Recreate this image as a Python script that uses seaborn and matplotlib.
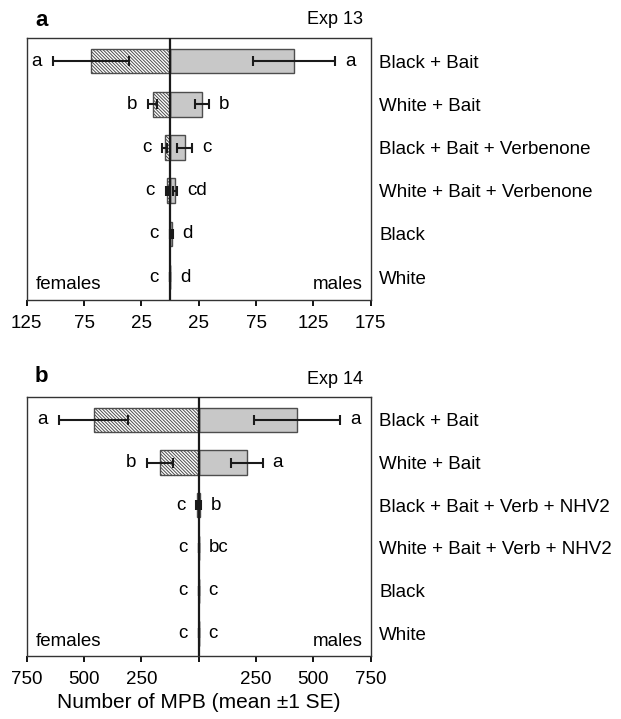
import numpy as np
import pandas as pd
import matplotlib
matplotlib.use('Agg')
import matplotlib.pyplot as plt
import seaborn as sns

# ---- data ----
treat_a = ['Black + Bait', 'White + Bait', 'Black + Bait + Verbenone',
           'White + Bait + Verbenone', 'Black', 'White']
fem_a = [69, 15, 4.6, 2.9, 0, 0]
fem_se_a = [33, 4, 2, 1, 0, 0]
male_a = [108, 28, 13, 4.5, 1.5, 0]
male_se_a = [36, 6, 6.5, 1.8, 0.8, 0]
fem_let_a = ['a', 'b', 'c', 'c', 'c', 'c']
male_let_a = ['a', 'b', 'c', 'cd', 'd', 'd']

treat_b = ['Black + Bait', 'White + Bait', 'Black + Bait + Verb + NHV2',
           'White + Bait + Verb + NHV2', 'Black', 'White']
fem_b = [458, 168, 6, 0, 0, 0]
fem_se_b = [150, 58, 4, 0, 0, 0]
male_b = [430, 210, 6, 0, 0, 0]
male_se_b = [188, 70, 4, 0, 0, 0]
fem_let_b = ['a', 'b', 'c', 'c', 'c', 'c']
male_let_b = ['a', 'a', 'b', 'bc', 'c', 'c']

sns.set_style('ticks')
plt.rcParams['font.family'] = ['Liberation Sans', 'DejaVu Sans']
plt.rcParams['text.color'] = 'black'
plt.rcParams['axes.labelcolor'] = 'black'
plt.rcParams['xtick.color'] = 'black'
plt.rcParams['ytick.color'] = 'black'
plt.rcParams['hatch.color'] = '#ababab'
plt.rcParams['hatch.linewidth'] = 0.7

fig = plt.figure(figsize=(6.21, 7.19), dpi=100)
W, H = 621, 719
ax_a = fig.add_axes([26.7 / W, 1 - 300 / H, 344 / W, 261.7 / H])
ax_b = fig.add_axes([26.7 / W, 1 - 656 / H, 344 / W, 258.7 / H])

FS = 13.5


def draw_panel(ax, treat, fem, fem_se, male, male_se, fem_let, male_let,
               xlim, ticks, ticklabels):
    df = pd.DataFrame({'treatment': treat,
                       'females': [-v for v in fem],
                       'males': male})
    sns.barplot(data=df, x='males', y='treatment', orient='h', color='#c8c8c8',
                saturation=1, width=0.57, edgecolor='#4d4d4d', linewidth=1.0,
                ax=ax)
    n0 = len(ax.patches)
    sns.barplot(data=df, x='females', y='treatment', orient='h', color='white',
                saturation=1, width=0.57, edgecolor='#4d4d4d', linewidth=1.0,
                ax=ax)
    for p in ax.patches[n0:]:
        p.set_hatch('\\' * 10)
    ypos = np.arange(len(treat))
    ax.errorbar([-v for v in fem], ypos, xerr=fem_se, fmt='none',
                ecolor='#1a1a1a', elinewidth=1.5, capsize=3.5, capthick=1.5,
                zorder=4)
    ax.errorbar(male, ypos, xerr=male_se, fmt='none', ecolor='#1a1a1a',
                elinewidth=1.5, capsize=3.5, capthick=1.5, zorder=4)
    ax.axvline(0, color='#1a1a1a', lw=1.6, zorder=5)
    for i in range(len(treat)):
        ax.annotate(fem_let[i], (-(fem[i] + fem_se[i]), i), xytext=(-8, 0),
                    textcoords='offset points', ha='right', va='center',
                    fontsize=FS)
        ax.annotate(male_let[i], (male[i] + male_se[i], i), xytext=(7, 0),
                    textcoords='offset points', ha='left', va='center',
                    fontsize=FS)
    ax.set_xlim(*xlim)
    ax.set_ylim(len(treat) - 0.47, -0.53)
    ax.set_xticks(ticks)
    ax.set_xticklabels(ticklabels)
    ax.set_xlabel('')
    ax.set_ylabel('')
    ax.yaxis.tick_right()
    ax.tick_params(axis='y', length=0, pad=6, labelsize=FS)
    ax.tick_params(axis='x', length=4.5, width=1.3, pad=6, labelsize=FS)
    for s in ax.spines.values():
        s.set_visible(True)
        s.set_linewidth(1.0)
        s.set_color('#333333')
    ax.text(0.025, 0.025, 'females', transform=ax.transAxes, ha='left',
            va='bottom', fontsize=FS)
    ax.text(0.978, 0.025, 'males', transform=ax.transAxes, ha='right',
            va='bottom', fontsize=FS)


draw_panel(ax_a, treat_a, fem_a, fem_se_a, male_a, male_se_a, fem_let_a,
           male_let_a, (-125, 175), [-125, -75, -25, 25, 75, 125, 175],
           ['125', '75', '25', '25', '75', '125', '175'])
draw_panel(ax_b, treat_b, fem_b, fem_se_b, male_b, male_se_b, fem_let_b,
           male_let_b, (-750, 750), [-750, -500, -250, 0, 250, 500, 750],
           ['750', '500', '250', '', '250', '500', '750'])

ax_b.set_xlabel('Number of MPB (mean \u00b11 SE)', fontsize=15, labelpad=4)

fig.text(35 / W, 1 - 21 / H, 'a', fontsize=16, fontweight='bold',
         ha='left', va='center')
fig.text(363 / W, 1 - 20 / H, 'Exp 13', fontsize=13, ha='right', va='center')
fig.text(35 / W, 1 - 376 / H, 'b', fontsize=16, fontweight='bold',
         ha='left', va='center')
fig.text(363 / W, 1 - 379 / H, 'Exp 14', fontsize=13, ha='right', va='center')

fig.savefig('out.png', dpi=100)
